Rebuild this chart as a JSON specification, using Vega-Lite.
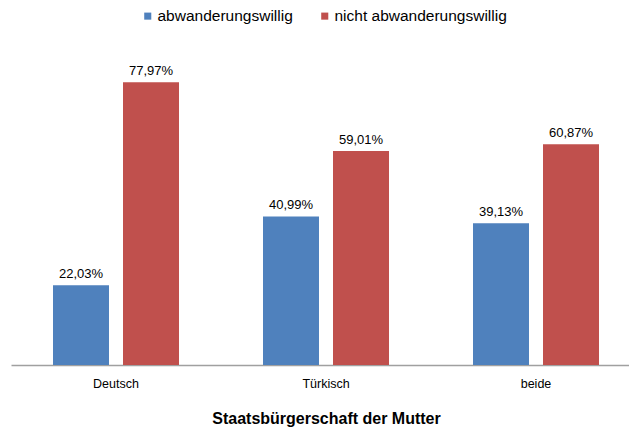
{
  "$schema": "https://vega.github.io/schema/vega-lite/v6.json",
  "width": 630,
  "height": 290,
  "autosize": {"type": "none"},
  "padding": {"left": 11, "top": 75, "right": 0, "bottom": 62},
  "background": "white",
  "config": {
    "view": {"stroke": null},
    "font": "Liberation Sans",
    "locale": {"number": {"decimal": ",", "thousands": ".", "grouping": [3], "currency": ["", " €"]}}
  },
  "data": {
    "values": [
      {"land": "Deutsch", "gruppe": "abwanderungswillig", "anteil": 0.2203},
      {"land": "Deutsch", "gruppe": "nicht abwanderungswillig", "anteil": 0.7797},
      {"land": "Türkisch", "gruppe": "abwanderungswillig", "anteil": 0.4099},
      {"land": "Türkisch", "gruppe": "nicht abwanderungswillig", "anteil": 0.5901},
      {"land": "beide", "gruppe": "abwanderungswillig", "anteil": 0.3913},
      {"land": "beide", "gruppe": "nicht abwanderungswillig", "anteil": 0.6087}
    ]
  },
  "encoding": {
    "x": {
      "field": "land", "type": "nominal", "sort": ["Deutsch", "Türkisch", "beide"],
      "scale": {"paddingInner": 0.4, "paddingOuter": 0.2},
      "axis": {
        "title": "Staatsbürgerschaft der Mutter", "titleFontSize": 16, "titleFontWeight": "bold",
        "titleColor": "black", "titlePadding": 21,
        "labelAngle": 0, "labelFontSize": 12.5, "labelColor": "black", "labelPadding": 12,
        "ticks": false, "domainColor": "#a0a0a0", "domainWidth": 1.5
      }
    },
    "xOffset": {"field": "gruppe", "type": "nominal", "scale": {"paddingInner": 0.2, "paddingOuter": 0}},
    "y": {"field": "anteil", "type": "quantitative", "scale": {"domain": [0, 0.8]}, "axis": null}
  },
  "layer": [
    {
      "mark": {"type": "bar"},
      "encoding": {
        "color": {
          "field": "gruppe", "type": "nominal",
          "scale": {"domain": ["abwanderungswillig", "nicht abwanderungswillig"], "range": ["#4F81BD", "#C0504D"]},
          "legend": {
            "title": null, "orient": "none", "direction": "horizontal",
            "legendX": 129, "legendY": -67,
            "symbolType": "square", "symbolSize": 50, "symbolStrokeWidth": 0, "symbolOpacity": 1,
            "labelFontSize": 15.5, "labelColor": "black", "columnPadding": 24, "labelOffset": 2, "labelLimit": 300
          }
        }
      }
    },
    {
      "mark": {"type": "text", "baseline": "bottom", "dy": -4, "fontSize": 13, "color": "black"},
      "encoding": {
        "text": {"field": "anteil", "type": "quantitative", "format": ".2%"}
      }
    }
  ]
}
